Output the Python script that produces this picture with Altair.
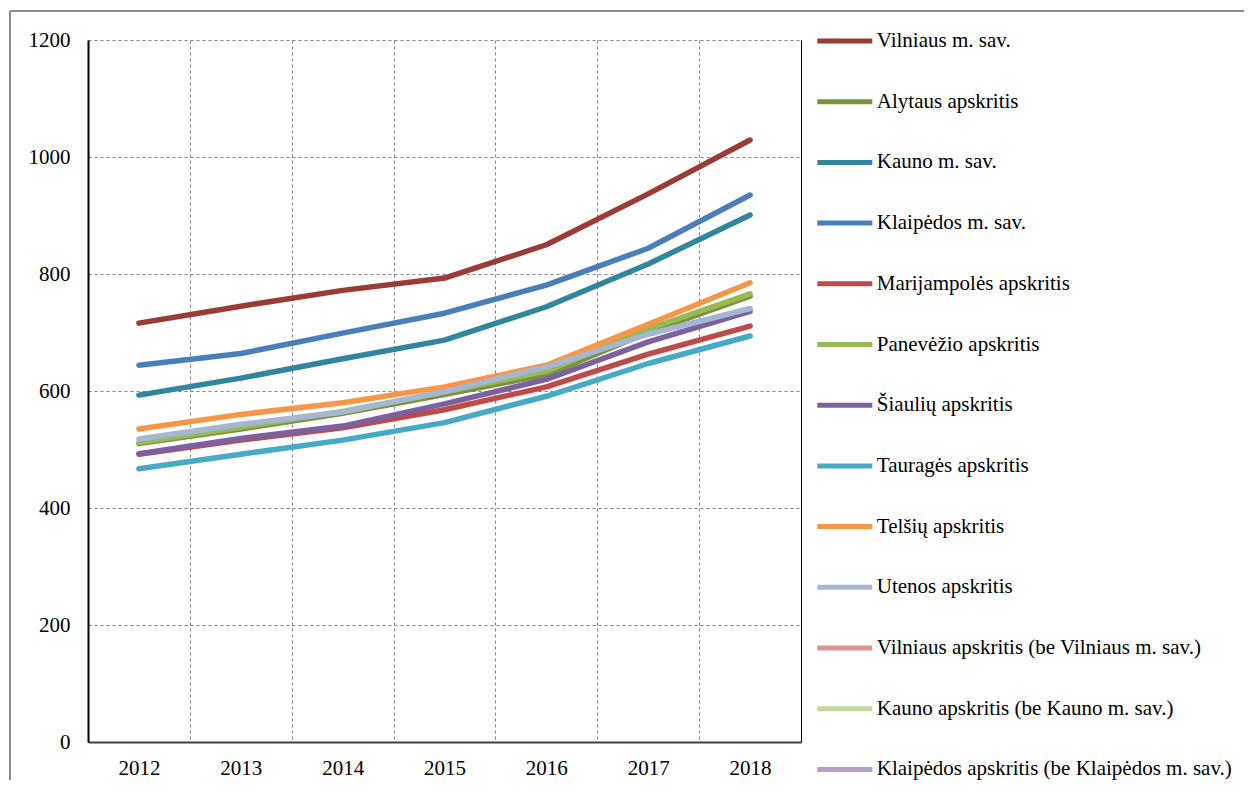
import altair as alt
import pandas as pd

years = ["2012", "2013", "2014", "2015", "2016", "2017", "2018"]

series_names = [
    "Vilniaus m. sav.",
    "Alytaus apskritis",
    "Kauno m. sav.",
    "Klaipėdos m. sav.",
    "Marijampolės apskritis",
    "Panevėžio apskritis",
    "Šiaulių apskritis",
    "Tauragės apskritis",
    "Telšių apskritis",
    "Utenos apskritis",
    "Vilniaus apskritis (be Vilniaus m. sav.)",
    "Kauno apskritis (be Kauno m. sav.)",
    "Klaipėdos apskritis (be Klaipėdos m. sav.)",
]

series_colors = [
    "#9A3B38", "#77933C", "#31859C", "#4A7EBB", "#BE4B48", "#98B954",
    "#7D60A0", "#46AAC5", "#F79646", "#A5B6D3", "#D99694", "#C3D69B", "#B3A2C7",
]

vilniaus_m = [716, 745, 772, 793, 850, 937, 1029]
alytaus = [510, 535, 562, 594, 628, 700, 762]
kauno_m = [593, 622, 655, 687, 744, 817, 901]
klaipedos_m = [644, 664, 699, 733, 781, 844, 935]
marijampoles = [492, 516, 537, 568, 607, 663, 711]
panevezio = [512, 538, 565, 598, 634, 706, 766]
siauliu = [493, 519, 540, 578, 620, 684, 736]
taurages = [467, 492, 516, 546, 591, 647, 694]
telsiu = [535, 560, 580, 607, 644, 714, 785]
utenos = [518, 543, 564, 599, 641, 697, 741]

series_values = [
    vilniaus_m, alytaus, kauno_m, klaipedos_m, marijampoles, panevezio,
    siauliu, taurages, telsiu, utenos,
]

y_ticks = [0, 200, 400, 600, 800, 1000, 1200]

rows = []
for i, vals in enumerate(series_values):
    for yr, v in zip(years, vals):
        rows.append({"series": series_names[i], "year": yr, "value": v, "ord": i})
df = pd.DataFrame(rows)

FONT = "Liberation Serif"
FS = 21

x_scale = alt.Scale(type="band", paddingInner=0, paddingOuter=0)
y_scale = alt.Scale(domain=[0, 1200], nice=False)

x_enc = alt.X(
    "year:O",
    scale=x_scale,
    axis=alt.Axis(
        title=None, labelAngle=0, tickBand="extent", grid=True, ticks=False,
        domainColor="#404040", domainWidth=2, labelPadding=15,
        gridDash=[3, 3], gridColor="#808080", gridWidth=1,
        labelFont=FONT, labelFontSize=FS, labelColor="black",
    ),
)

y_enc = alt.Y(
    "value:Q",
    scale=y_scale,
    axis=alt.Axis(
        title=None, values=y_ticks, format="d", ticks=False,
        domainColor="black", domainWidth=2, labelPadding=18,
        gridDash=[3, 3], gridColor="#808080", gridWidth=1,
        labelFont=FONT, labelFontSize=FS, labelColor="black",
    ),
)

lines = alt.Chart(df).mark_line(
    strokeWidth=5.5, strokeCap="round", strokeJoin="round"
).encode(
    x=x_enc,
    y=y_enc,
    color=alt.Color(
        "series:N",
        scale=alt.Scale(domain=series_names, range=series_colors),
        legend=alt.Legend(
            title=None, orient="none", legendX=726.8, legendY=-29,
            symbolType="stroke", symbolSize=3025, symbolStrokeWidth=5,
            labelFont=FONT, labelFontSize=FS, labelColor="black",
            labelOffset=2, rowPadding=20.7, labelLimit=0, padding=0,
        ),
    ),
    order=alt.Order("ord:Q"),
)

right_axis = alt.Chart(df).mark_line(opacity=0).encode(
    x=alt.X("year:O", scale=x_scale, axis=None),
    y=alt.Y(
        "value:Q",
        scale=y_scale,
        axis=alt.Axis(orient="right", labels=False, ticks=False, grid=False,
                      title=None, domainColor="black", domainWidth=1),
    ),
    detail="series:N",
)

frame_df = pd.DataFrame({"k": [0]})
frame_left = alt.Chart(frame_df).mark_rule(color="#8c8c8c", strokeWidth=2).encode(
    x=alt.value(-78), y=alt.value(-29), y2=alt.value(740)
)
frame_top = alt.Chart(frame_df).mark_rule(color="#8c8c8c", strokeWidth=2).encode(
    x=alt.value(-78), x2=alt.value(1156), y=alt.value(-29)
)

chart = alt.layer(lines, right_axis, frame_left, frame_top).resolve_axis(
    x="independent", y="independent"
).resolve_scale(x="shared", y="shared").properties(
    width=713, height=702,
    padding={"left": 1, "top": 2, "right": 0, "bottom": 0},
    background="white",
).configure_view(stroke=None)

chart.save("out.html", embed_options={"renderer": "svg", "actions": False})
